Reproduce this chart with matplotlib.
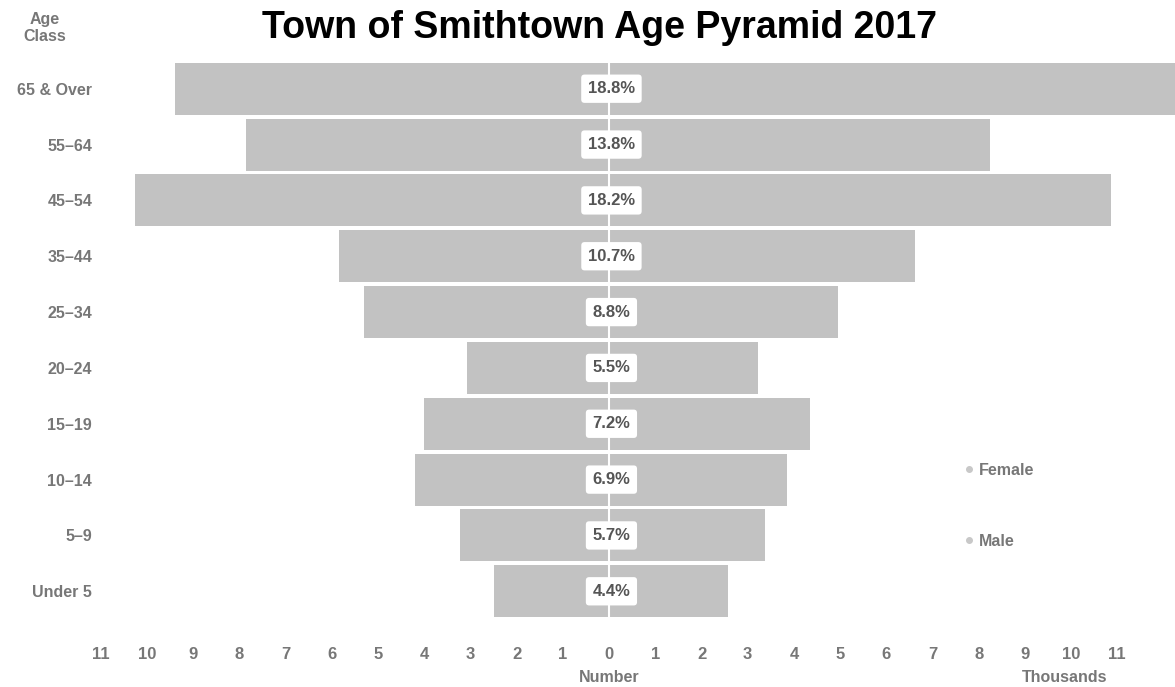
import numpy as np
import matplotlib
matplotlib.use('Agg')
import matplotlib.pyplot as plt
from matplotlib.lines import Line2D

# Age classes, bottom to top
ages = ['Under 5', '5–9', '10–14', '15–19', '20–24',
        '25–34', '35–44', '45–54', '55–64', '65 & Over']
# Population in thousands
male = [2.49, 3.22, 4.20, 4.00, 3.07, 5.30, 5.84, 10.26, 7.86, 9.39]
female = [2.58, 3.38, 3.85, 4.35, 3.23, 4.96, 6.62, 10.87, 8.25, 12.44]
share = ['4.4%', '5.7%', '6.9%', '7.2%', '5.5%',
         '8.8%', '10.7%', '18.2%', '13.8%', '18.8%']
ticks = list(range(-11, 12))

bar_col = '#c2c2c2'
txt_col = '#777777'

plt.rcParams['font.family'] = ['Liberation Sans', 'DejaVu Sans']

fig = plt.figure(figsize=(11.75, 6.87), dpi=100)
ax = fig.add_axes([95 / 1175, 1 - 622 / 687, 1 - 95 / 1175, (622 - 58) / 687])

y = np.arange(len(ages))
ax.barh(y, [-m for m in male], height=0.93, color=bar_col, label='Male')
ax.barh(y, female, height=0.93, color=bar_col, label='Female')
ax.axvline(0, color='white', lw=1.5)

for yi, s in zip(y, share):
    ax.text(0.05, yi, s, ha='center', va='center', fontsize=12,
            fontweight='bold', color='#555555',
            bbox=dict(boxstyle='round,pad=0.4,rounding_size=0.2',
                      fc='white', ec='none'))

ax.set_xlim(-11.13, 12.25)
ax.set_ylim(-0.55, 9.55)
ax.set_xticks(ticks)
ax.set_xticklabels([str(abs(t)) for t in ticks])
ax.set_yticks(y)
ax.set_yticklabels(ages)
ax.tick_params(axis='x', length=0, pad=18, labelsize=12, labelcolor=txt_col)
ax.tick_params(axis='y', length=0, pad=2, labelsize=11.5, labelcolor=txt_col)
for lab in ax.get_xticklabels() + ax.get_yticklabels():
    lab.set_fontweight('bold')
for sp in ax.spines.values():
    sp.set_visible(False)

handles = [Line2D([], [], marker='o', ls='none', color='#c8c8c8', markersize=4),
           Line2D([], [], marker='o', ls='none', color='#c8c8c8', markersize=4)]
leg = fig.legend(handles, ['Female', 'Male'], loc='upper left',
                 bbox_to_anchor=(955 / 1175, 1 - 455 / 687), frameon=False,
                 labelspacing=3.5, handletextpad=0.2, handlelength=0.8,
                 borderpad=0, prop=dict(size=11.5, weight='bold'))
for t in leg.get_texts():
    t.set_color(txt_col)

fig.text(600 / 1175, 1 - 28 / 687, 'Town of Smithtown Age Pyramid 2017',
         ha='center', va='center', fontsize=27, fontweight='bold', color='black')
fig.text(45 / 1175, 1 - 28 / 687, 'Age\nClass', ha='center', va='center',
         fontsize=11.5, fontweight='bold', color=txt_col, linespacing=1.1)
fig.text(609 / 1175, 1 - 678 / 687, 'Number', ha='center', va='center',
         fontsize=11.5, fontweight='bold', color=txt_col)
fig.text(1065 / 1175, 1 - 678 / 687, 'Thousands', ha='center', va='center',
         fontsize=11.5, fontweight='bold', color=txt_col)

fig.savefig('out.png', dpi=100)
